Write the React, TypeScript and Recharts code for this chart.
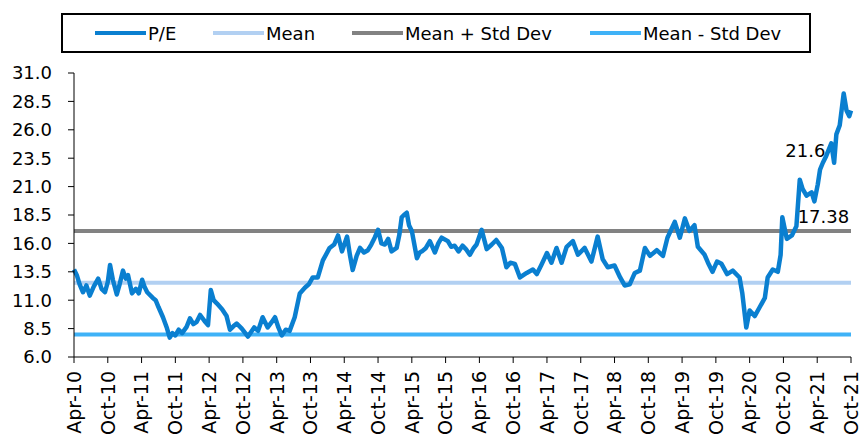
import React from 'react';
import { LineChart, Line, XAxis, YAxis, ReferenceLine, ReferenceDot } from 'recharts';

// months since Apr-10
const months = [
  0, 0.5, 1, 1.6, 2.2, 2.8, 3.5, 4.3, 4.9, 5.5, 6.0, 6.4, 6.9, 7.6, 8.1, 8.7, 9.2, 9.6, 10.3, 11.0,
  11.5, 12.1, 12.5, 13.0, 14.0, 14.5, 15.0, 15.8, 16.5, 17.0, 17.5, 18.0, 18.6, 19.2, 20.0, 20.6, 21.2, 21.8, 22.4, 23.3,
  23.8, 24.3, 24.8, 25.4, 26.3, 27.1, 27.7, 28.3, 28.9, 29.8, 30.9, 32.0, 32.7, 33.5, 34.4, 35.0, 35.7, 36.3, 36.9, 37.6,
  38.3, 39.2, 40.1, 41.0, 41.7, 42.4, 43.3, 44.2, 45.4, 46.2, 46.9, 47.6, 48.5, 49.0, 49.5, 50.2, 50.8, 51.5, 52.2, 52.8,
  53.4, 54.0, 54.6, 55.2, 55.8, 56.4, 57.3, 57.8, 58.2, 58.6, 59.1, 59.5, 60.0, 60.9, 61.4, 61.8, 62.5, 63.2, 64.1, 64.7,
  65.3, 66.4, 67.0, 67.6, 68.3, 69.0, 69.6, 70.3, 71.0, 71.5, 72.4, 73.3, 74.2, 75.0, 76.0, 76.8, 77.5, 78.3, 79.2, 80.4,
  81.5, 82.2, 83.0, 84.0, 84.8, 85.7, 86.6, 87.5, 88.6, 89.5, 90.7, 91.9, 93.0, 93.9, 94.8, 96.0, 97.0, 97.8, 98.7, 99.6,
  100.5, 101.4, 102.3, 103.5, 104.6, 105.4, 106.7, 107.6, 108.5, 109.3, 110.2, 110.8, 112.0, 112.6, 113.4, 114.2, 115.0, 116.0, 117.0, 118.2,
  118.7, 119.4, 120.0, 120.9, 121.8, 122.7, 123.2, 124.1, 125.0, 125.5, 125.8, 126.6, 127.5, 128.3, 128.9, 129.4, 130.1, 131.0, 131.5, 132.1,
  132.5, 133.0, 133.6, 134.5, 135.0, 135.4, 136.0, 136.7, 137.2, 137.7, 138.0,
];

const peValues = [
  13.7, 13.2, 12.4, 11.7, 12.3, 11.4, 12.2, 12.9, 12.0, 11.7, 12.6, 14.1, 12.8, 11.5, 12.4, 13.6, 12.9, 13.2, 11.6, 12.0,
  11.6, 12.8, 12.2, 11.7, 11.2, 11.0, 10.4, 9.5, 8.55, 7.7, 8.1, 7.9, 8.4, 8.1, 8.65, 9.4, 8.9, 9.1, 9.7, 9.1,
  8.8, 11.9, 11.0, 10.7, 10.2, 9.6, 8.4, 8.7, 8.95, 8.5, 7.8, 8.6, 8.3, 9.5, 8.6, 9.0, 9.5, 8.6, 7.9, 8.4,
  8.3, 9.5, 11.6, 12.1, 12.4, 13.0, 13.0, 14.5, 15.6, 15.9, 16.7, 15.3, 16.6, 15.0, 13.66, 14.9, 15.6, 15.2, 15.4, 15.9,
  16.5, 17.2, 16.0, 15.9, 16.4, 15.3, 15.6, 16.8, 18.3, 18.5, 18.7, 17.6, 17.1, 14.7, 15.2, 15.3, 15.6, 16.2, 15.2, 16.0,
  16.5, 16.2, 15.7, 15.8, 15.3, 15.8, 15.5, 15.0, 15.6, 15.9, 17.2, 15.5, 15.9, 16.3, 15.6, 13.9, 14.3, 14.2, 13.0, 13.4,
  13.7, 13.3, 14.1, 15.15, 14.3, 15.6, 14.3, 15.7, 16.2, 15.0, 15.6, 14.4, 16.6, 14.6, 13.9, 14.05, 13.0, 12.3, 12.4, 13.4,
  13.6, 15.6, 14.9, 15.4, 14.9, 16.5, 17.9, 16.5, 18.2, 17.1, 17.6, 15.7, 15.0, 14.3, 13.5, 14.4, 14.2, 13.3, 13.6, 13.0,
  11.6, 8.6, 10.1, 9.6, 10.4, 11.2, 13.0, 13.7, 13.5, 15.0, 18.3, 16.4, 16.7, 17.5, 21.6, 20.8, 20.2, 20.5, 19.7, 21.2,
  22.5, 23.1, 23.7, 24.8, 23.1, 25.6, 26.4, 29.2, 27.7, 27.2, 27.7,
];

const meanValue = 12.54;
const meanPlusSd = 17.09;
const meanMinusSd = 7.99;

const xTicks = [0, 6, 12, 18, 24, 30, 36, 42, 48, 54, 60, 66, 72, 78, 84, 90, 96, 102, 108, 114, 120, 126, 132, 138];
const xLabels = [
  'Apr-10', 'Oct-10', 'Apr-11', 'Oct-11', 'Apr-12', 'Oct-12', 'Apr-13', 'Oct-13', 'Apr-14', 'Oct-14', 'Apr-15', 'Oct-15',
  'Apr-16', 'Oct-16', 'Apr-17', 'Oct-17', 'Apr-18', 'Oct-18', 'Apr-19', 'Oct-19', 'Apr-20', 'Oct-20', 'Apr-21', 'Oct-21',
];
const yTicks = [6, 8.5, 11, 13.5, 16, 18.5, 21, 23.5, 26, 28.5, 31];

const legendNames = ['P/E', 'Mean', 'Mean + Std Dev', 'Mean - Std Dev'];
const legendColors = ['#0A7FD0', '#B2D0F2', '#828282', '#3FB2F7'];
const legendLeft = [95, 213, 352, 590];

// callouts shown on the chart: [month, value, text]
const callouts: [number, number, string][] = [
  [129.9, 24.2, '21.6'],
  [133.1, 18.4, '17.38'],
];

const FONT = '"DejaVu Sans", sans-serif';

const data = months.map((m, i) => ({ m, pe: peValues[i] }));

const XTick = (props: any) => {
  const { x, y, payload } = props;
  const idx = xTicks.indexOf(payload.value);
  return (
    <text
      x={x}
      y={y}
      transform={`rotate(-90, ${x}, ${y})`}
      textAnchor="end"
      dy="0.36em"
      fontSize={19}
      fontFamily={FONT}
      fill="#000"
    >
      {xLabels[idx]}
    </text>
  );
};

const LegendBox = () => (
  <div
    style={{
      position: 'absolute',
      left: 61,
      top: 13,
      width: 746,
      height: 36,
      border: '2px solid #000',
      boxSizing: 'content-box',
      fontFamily: FONT,
      fontSize: 18,
      color: '#000',
    }}
  >
    {legendNames.map((name, i) => (
      <div
        key={name}
        style={{
          position: 'absolute',
          left: legendLeft[i] - 63,
          top: 0,
          height: 36,
          display: 'flex',
          alignItems: 'center',
          whiteSpace: 'nowrap',
        }}
      >
        <div style={{ width: 51, height: 4, background: legendColors[i], marginRight: 2 }} />
        <span>{name}</span>
      </div>
    ))}
  </div>
);

export default function App() {
  return (
    <div style={{ position: 'absolute', left: 0, top: 0, width: 862, height: 434, background: '#fff' }}>
      <LineChart width={862} height={434} data={data} margin={{ top: 73, right: 11, left: 0, bottom: 0 }}>
        <XAxis
          dataKey="m"
          type="number"
          domain={[0, 138]}
          ticks={xTicks}
          interval={0}
          tick={<XTick />}
          height={77}
          stroke="#000"
          tickSize={6}
          tickMargin={8}
        />
        <YAxis
          type="number"
          domain={[6, 31]}
          ticks={yTicks}
          interval={0}
          width={74}
          stroke="#000"
          tickSize={6}
          tickMargin={16}
          tickFormatter={(v: number) => v.toFixed(1)}
          tick={{ fontSize: 18, fontFamily: FONT, fill: '#000' }}
        />
        <ReferenceLine y={meanValue} stroke={legendColors[1]} strokeWidth={4} />
        <ReferenceLine y={meanPlusSd} stroke={legendColors[2]} strokeWidth={4} />
        <ReferenceLine y={meanMinusSd} stroke={legendColors[3]} strokeWidth={4} />
        <Line
          dataKey="pe"
          stroke={legendColors[0]}
          strokeWidth={4.5}
          dot={false}
          isAnimationActive={false}
          strokeLinejoin="round"
        />
        {callouts.map(([m, v, t]) => (
          <ReferenceDot
            key={t}
            x={m}
            y={v}
            r={0}
            stroke="none"
            fill="none"
            label={{ value: t, position: 'center', fontSize: 18, fontFamily: FONT, fill: '#000' }}
          />
        ))}
      </LineChart>
      <LegendBox />
    </div>
  );
}
